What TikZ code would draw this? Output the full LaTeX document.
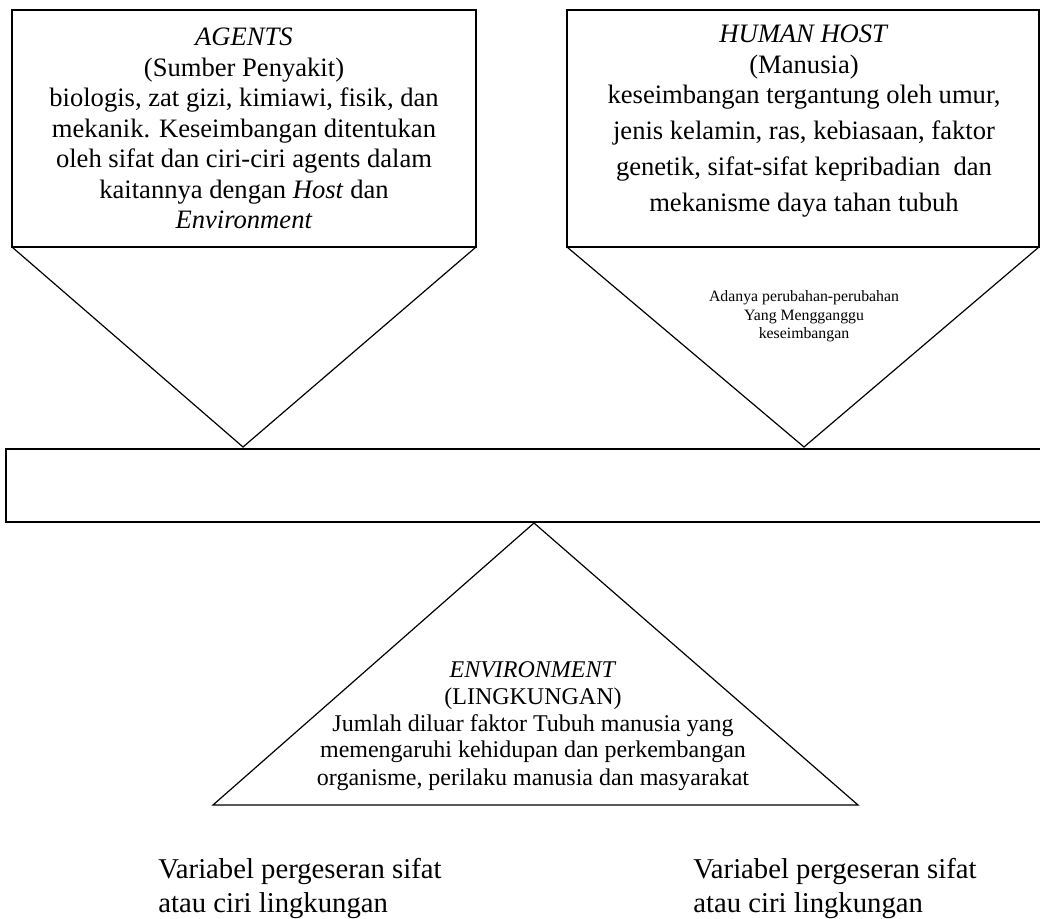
\documentclass[tikz,border=0pt]{standalone}
\usepackage{fontspec}
\setmainfont{Liberation Serif}

\begin{document}
\begin{tikzpicture}[x=0.5pt, y=-0.5pt, every node/.style={inner sep=0pt, align=center}, outline/.style={draw=black, line width=0.6pt, line join=miter}, boxtext/.style={font=\fontsize{13.3}{15.25}\selectfont, anchor=base}, envtext/.style={font=\fontsize{12}{13.5}\selectfont, anchor=base}, smalltext/.style={font=\fontsize{7.9}{9.25}\selectfont, anchor=base}, vartext/.style={font=\fontsize{14.35}{17}\selectfont, align=left, anchor=base west}]
	\useasboundingbox (0,0) rectangle (1040,919);
	\coordinate (agentTip) at (243,447);
	\coordinate (hostTip) at (804,447);
	\coordinate (envTip) at (534,523);
	\draw[outline] (12,10) rectangle (476,247);
	\draw[outline] (12,247) -- (agentTip) -- (476,247);
	\draw[outline] (567,10) rectangle (1039,247);
	\draw[outline] (567,247) -- (hostTip) -- (1039,247);
	\draw[line width=1pt] (6,449) rectangle (1050,522);
	\draw[outline] (envTip) -- (858,805) -- (213,805) -- cycle;
	\node[boxtext] (agents) at (244,229) {\textit{AGENTS}\\(Sumber Penyakit)\\biologis, zat gizi, kimiawi, fisik, dan\\mekanik. Keseimbangan ditentukan\\oleh sifat dan ciri-ciri agents dalam\\kaitannya dengan \textit{Host} dan\\\textit{Environment}};
	\node[boxtext] (host) at (804,212) {\textit{HUMAN HOST}\\(Manusia)\\keseimbangan tergantung oleh umur,\\[2.75pt]jenis kelamin, ras, kebiasaan, faktor\\[2.75pt]genetik, sifat-sifat kepribadian~ dan\\[2.75pt]mekanisme daya tahan tubuh};
	\node[smalltext] (change) at (804,339) {Adanya perubahan-perubahan\\Yang Mengganggu\\keseimbangan};
	\node[envtext] (env) at (533,785) {\textit{ENVIRONMENT}\\(LINGKUNGAN)\\Jumlah diluar faktor Tubuh manusia yang\\memengaruhi kehidupan dan perkembangan\\organisme, perilaku manusia dan masyarakat};
	\node[vartext] (varLeft) at (158,912) {Variabel pergeseran sifat\\atau ciri lingkungan};
	\node[vartext] (varRight) at (693,912) {Variabel pergeseran sifat\\atau ciri lingkungan};
\end{tikzpicture}
\end{document}
